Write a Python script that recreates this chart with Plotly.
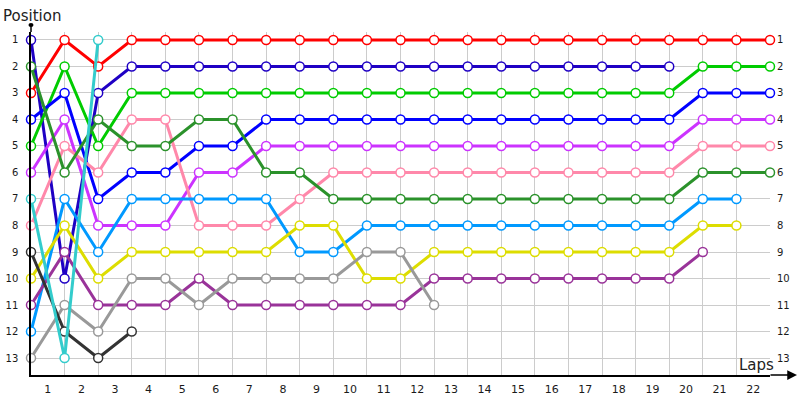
import plotly.graph_objects as go

laps = list(range(0, 23))
lap_labels = [str(i) for i in range(1, 23)]
positions = list(range(1, 14))

series_names = ["Red", "Navy", "Green", "Blue", "Violet", "Pink", "DarkGreen",
                "LightBlue", "Yellow", "Purple", "Gray", "Black", "Cyan"]
series_colors = ["#ff0000", "#1f00c4", "#00cc00", "#0000ff", "#cc33ff", "#ff88aa", "#2b922b",
                 "#0099ff", "#dddd00", "#993399", "#999999", "#333333", "#33cccc"]

red = [3, 1, 2, 1, 1, 1, 1, 1, 1, 1, 1, 1, 1, 1, 1, 1, 1, 1, 1, 1, 1, 1, 1]
navy = [1, 10, 3, 2, 2, 2, 2, 2, 2, 2, 2, 2, 2, 2, 2, 2, 2, 2, 2, 2]
green = [5, 2, 5, 3, 3, 3, 3, 3, 3, 3, 3, 3, 3, 3, 3, 3, 3, 3, 3, 3, 2, 2, 2]
blue = [4, 3, 7, 6, 6, 5, 5, 4, 4, 4, 4, 4, 4, 4, 4, 4, 4, 4, 4, 4, 3, 3, 3]
violet = [6, 4, 8, 8, 8, 6, 6, 5, 5, 5, 5, 5, 5, 5, 5, 5, 5, 5, 5, 5, 4, 4, 4]
pink = [8, 5, 6, 4, 4, 8, 8, 8, 7, 6, 6, 6, 6, 6, 6, 6, 6, 6, 6, 6, 5, 5, 5]
darkgreen = [2, 6, 4, 5, 5, 4, 4, 6, 6, 7, 7, 7, 7, 7, 7, 7, 7, 7, 7, 7, 6, 6, 6]
lightblue = [12, 7, 9, 7, 7, 7, 7, 7, 9, 9, 8, 8, 8, 8, 8, 8, 8, 8, 8, 8, 7, 7]
yellow = [10, 8, 10, 9, 9, 9, 9, 9, 8, 8, 10, 10, 9, 9, 9, 9, 9, 9, 9, 9, 8, 8]
purple = [11, 9, 11, 11, 11, 10, 11, 11, 11, 11, 11, 11, 10, 10, 10, 10, 10, 10, 10, 10, 9]
gray = [13, 11, 12, 10, 10, 11, 10, 10, 10, 10, 9, 9, 11]
black = [9, 12, 13, 12]
cyan = [7, 13, 1]

series_values = [red, navy, green, blue, violet, pink, darkgreen,
                 lightblue, yellow, purple, gray, black, cyan]

FONT = "DejaVu Sans"

fig = go.Figure()
for name, color, vals in zip(series_names, series_colors, series_values):
    fig.add_trace(go.Scatter(
        x=laps[:len(vals)], y=vals, name=name, mode="lines+markers",
        line=dict(color=color, width=3),
        marker=dict(symbol="circle", size=9, color="white",
                    line=dict(color=color, width=1.5)),
        cliponaxis=False, showlegend=False,
    ))

# invisible trace to anchor the right-hand axis
fig.add_trace(go.Scatter(x=[None], y=[None], yaxis="y2", showlegend=False,
                         hoverinfo="skip"))

yr = [13.64, 0.70]
fig.update_layout(
    width=800, height=400,
    margin=dict(l=31, r=30, t=32, b=25, autoexpand=False),
    paper_bgcolor="white", plot_bgcolor="white",
    showlegend=False,
    font=dict(family=FONT, color="#222222"),
    xaxis=dict(
        range=[0, 22], tickmode="array", automargin=False,
        tickvals=[i - 0.5 for i in range(1, 23)], ticktext=lap_labels,
        showgrid=False, zeroline=False,
        minor=dict(tickmode="array", tickvals=laps, showgrid=True,
                   gridcolor="#cccccc", gridwidth=1, ticks=""),
        showline=True, linecolor="black", linewidth=1.5,
        ticks="", ticklabelstandoff=3,
        tickfont=dict(family=FONT, size=11, color="#1a1a1a"),
    ),
    yaxis=dict(
        range=yr, tickmode="array", tickvals=positions, automargin=False,
        ticktext=[str(p) for p in positions],
        showgrid=True, gridcolor="#cccccc", gridwidth=1, zeroline=False,
        showline=True, linecolor="black", linewidth=1.5,
        ticks="", ticklabelstandoff=9,
        tickfont=dict(family=FONT, size=10, color="#1a1a1a"),
    ),
    yaxis2=dict(
        range=yr, overlaying="y", side="right", tickmode="array", automargin=False,
        tickvals=positions, ticktext=[str(p) for p in positions],
        showgrid=False, zeroline=False, showline=False,
        ticks="", ticklabelstandoff=6,
        tickfont=dict(family=FONT, size=10, color="#1a1a1a"),
    ),
)

# axis decorations: extension of y axis with dot, arrow on x axis
fig.add_shape(type="line", xref="paper", yref="paper",
              x0=0, x1=0, y0=1, y1=1.0204, line=dict(color="black", width=1.5))
fig.add_shape(type="circle", xref="paper", yref="paper",
              x0=-0.0034, x1=0.0034, y0=1.0145, y1=1.0263,
              fillcolor="black", line=dict(color="black", width=0))
fig.add_annotation(xref="paper", yref="paper", x=1.0365, y=0, ax=-28, ay=0,
                   text="", showarrow=True, arrowhead=2, arrowsize=1.3,
                   arrowwidth=1.5, arrowcolor="black")

fig.add_annotation(xref="paper", yref="paper", x=0.0015, y=1.048,
                   text="Position", showarrow=False, xanchor="center",
                   yanchor="middle", font=dict(family=FONT, size=15, color="#222222"))
fig.add_annotation(xref="paper", yref="paper", x=0.982, y=0.03,
                   text="Laps", showarrow=False, xanchor="center",
                   yanchor="middle", font=dict(family=FONT, size=15, color="#222222"))

fig.write_html("out.html",
               config={"displayModeBar": False},
               post_script="document.body.style.margin='0';document.body.style.overflow='hidden';")
